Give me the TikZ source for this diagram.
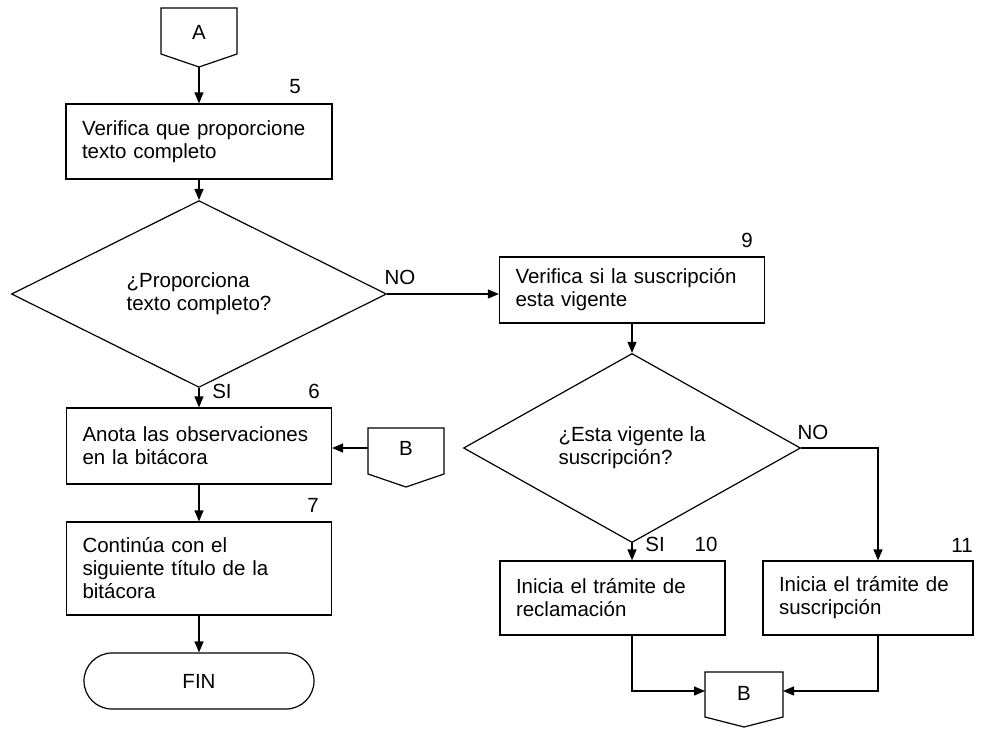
\documentclass[tikz,border=0pt]{standalone}
\usepackage{fontspec}
\setmainfont{Liberation Sans}
\usepackage{tikz}
\usetikzlibrary{shapes.geometric,arrows.meta,positioning}

\tikzset{
  proc/.style={draw, rectangle, line width=1.2pt, align=left, inner xsep=16pt},
  decision/.style={draw, diamond, line width=1.2pt, align=left, inner sep=0pt},
  term/.style={draw, rectangle, rounded corners=28pt, line width=1.2pt, minimum width=230pt, minimum height=56pt},
  flow/.style={line width=1.2pt, -{Triangle[length=11pt,width=9pt]}},
  link/.style={line width=1.2pt}
}

\begin{document}
\begin{tikzpicture}[x=1pt, y=-1pt, font=\fontsize{20.5pt}{23pt}\selectfont]
	    \useasboundingbox (0,0) rectangle (981,728);

	    % conector de entrada A
	    \draw[link] (161,8) -- (237,8) -- (237,54) -- (199,67) -- (161,54) -- cycle;
	    \coordinate (Aout) at (199,67);
	    \node (A) at (199,32) {A};

	    % columna izquierda
	    \node[proc, text width=234pt, minimum height=75pt] (p5) at (199,141.5) {Verifica que proporcione\\texto completo};
	    \node[decision, minimum width=375pt, minimum height=152pt] (d1) at (199,294) {¿Proporciona\\texto completo?};
	    \node[proc, text width=233pt, minimum height=76pt] (p6) at (199,446) {Anota las observaciones\\en la bitácora};
	    \node[proc, text width=233pt, minimum height=93pt] (p7) at (199,568.5) {Continúa con el\\siguiente título de la\\bitácora};
	    \node[term] (fin) at (199,681) {FIN};

	    % conector B de regreso
	    \draw[link] (368,428) -- (444,428) -- (444,474) -- (406,487) -- (368,474) -- cycle;
	    \coordinate (Blw) at (368,448);
	    \node (Bl) at (406,448) {B};

	    % columna derecha
	    \node[proc, text width=233pt, minimum height=66pt] (p9) at (632,290) {Verifica si la suscripción\\esta vigente};
	    \node[decision, minimum width=337pt, minimum height=150pt] (d2) at (632,448) {¿Esta vigente la\\suscripción?};
	    \node[proc, text width=193pt, minimum height=74pt] (p10) at (612.5,598) {Inicia el trámite de\\reclamación};
	    \node[proc, text width=178pt, minimum height=74pt] (p11) at (868,598) {Inicia el trámite de\\suscripción};

	    % conector de salida B
	    \draw[link] (705,672) -- (783,672) -- (783,717) -- (744,727) -- (705,717) -- cycle;
	    \coordinate (Bbw) at (705,691);
	    \coordinate (Bbe) at (783,691);
	    \node (Bb) at (744,693) {B};

	    % flechas
	    \draw[flow] (Aout) -- (p5.north);
	    \draw[flow] (p5.south) -- (d1.north);
	    \draw[flow] (d1.south) -- (p6.north);
	    \draw[flow] (Blw) -- (Blw -| p6.east);
	    \draw[flow] (p6.south) -- (p7.north);
	    \draw[flow] (p7.south) -- (fin.north);
	    \draw[flow] (d1.east) -- (d1.east -| p9.west);
	    \draw[flow] (p9.south) -- (d2.north);
	    \draw[flow] (d2.south) -- (d2.south |- p10.north);
	    \draw[flow] (d2.east) -| ([xshift=10pt]p11.north);
	    \draw[flow] (d2.south |- p10.south) |- (Bbw);
	    \draw[flow] ([xshift=10pt]p11.south) |- (Bbe);

	    % etiquetas
	    \node (n5) at (295,87) {5};
	    \node (n6) at (314,391) {6};
	    \node (n7) at (313,505) {7};
	    \node (n9) at (747,240) {9};
	    \node (n10) at (706,544) {10};
	    \node (n11) at (962,545) {11};
	    \node (no1) at (400,277) {NO};
	    \node (no2) at (813,432) {NO};
	    \node (si1) at (222,391) {SI};
	    \node (si2) at (655,544) {SI};
\end{tikzpicture}
\end{document}
